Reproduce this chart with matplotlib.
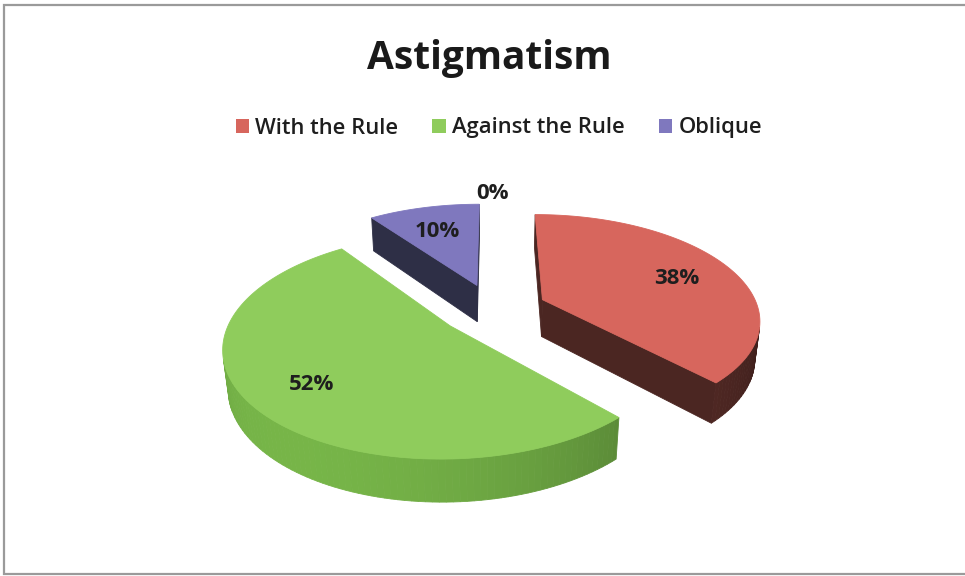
import numpy as np
import matplotlib
matplotlib.use("Agg")
import matplotlib.pyplot as plt
from matplotlib.patches import Polygon, Patch

# ---- chart data ----
title = "Astigmatism"
categories = ["With the Rule", "Against the Rule", "Oblique", ""]
values = [38, 52, 10, 0]
top_colors = ["#D7665D", "#8FCC5C", "#7F78BE", "#4F81BD"]
side_colors = ["#5E2F2A", "#6EA843", "#3A3B57", "#2C4D74"]

# ---- 3D pie geometry (world units: radius 1) ----
W, H = 965, 576
elev = np.radians(28.5)
dist = 5.0
focal = 1080.0
cx, cy = 493.0, 309.0
explode = 0.25
thick = 0.2
label_r = 0.72
cam = np.array([0.0, -dist * np.cos(elev), dist * np.sin(elev)])


def proj(X, Y, Z):
    depth = dist + Y * np.cos(elev) - Z * np.sin(elev)
    sx = cx + focal * X / depth
    sy = cy - focal * (Y * np.sin(elev) + Z * np.cos(elev)) / depth
    return sx, sy


def depth_of(X, Y, Z):
    return dist + Y * np.cos(elev) - Z * np.sin(elev)


def shade(hex_color, f):
    rgb = np.array(matplotlib.colors.to_rgb(hex_color)) * f
    return tuple(np.clip(rgb, 0, 1))


fig = plt.figure(figsize=(W / 100, H / 100), dpi=100)
ax = fig.add_axes([0, 0, 1, 1])
ax.set_xlim(0, W)
ax.set_ylim(H, 0)
ax.axis("off")

# outer frame (open on the right edge of the image)
ax.plot([W + 5, 4, 4, W + 5], [5, 5, 574, 574], color="#9a9a9a", lw=1.6,
        solid_joinstyle="miter")

total = float(sum(values))
starts = 90 - np.cumsum([0] + values[:-1]) / total * 360
ends = starts - np.array(values) / total * 360

slices = []
for i, v in enumerate(values):
    a0, a1 = np.radians(starts[i]), np.radians(ends[i])
    mid = (a0 + a1) / 2
    off = explode * np.array([np.cos(mid), np.sin(mid)])
    slices.append((i, a0, a1, mid, off))

light = np.array([-0.6, -0.8])
light /= np.linalg.norm(light)


def visible(normal, point):
    return np.dot(normal, cam - point) > 0


# farther slices first
order = sorted(slices, key=lambda s: -depth_of(s[4][0], s[4][1], 0))
for i, a0, a1, mid, off in order:
    if values[i] == 0:
        continue
    n = max(int(abs(np.degrees(a0 - a1)) / 1.5), 4)
    th = np.linspace(a0, a1, n + 1)
    rimX = off[0] + np.cos(th)
    rimY = off[1] + np.sin(th)
    faces = []
    # curved outer wall
    for k in range(n):
        tm = (th[k] + th[k + 1]) / 2
        nrm = np.array([np.cos(tm), np.sin(tm), 0.0])
        pt = np.array([off[0] + np.cos(tm), off[1] + np.sin(tm), -thick / 2])
        if not visible(nrm, pt):
            continue
        quad = [proj(rimX[k], rimY[k], 0), proj(rimX[k + 1], rimY[k + 1], 0),
                proj(rimX[k + 1], rimY[k + 1], -thick), proj(rimX[k], rimY[k], -thick)]
        lit = np.dot(nrm[:2], light)
        f = 0.78 + 0.3 * lit
        faces.append((depth_of(*pt), quad, shade(side_colors[i], f)))
    # radial cut faces
    for ang, sgn in ((a0, 1), (a1, -1)):
        nang = ang + sgn * np.pi / 2
        nrm = np.array([np.cos(nang), np.sin(nang), 0.0])
        rx, ry = off[0] + np.cos(ang), off[1] + np.sin(ang)
        pt = np.array([(off[0] + rx) / 2, (off[1] + ry) / 2, -thick / 2])
        if not visible(nrm, pt):
            continue
        quad = [proj(off[0], off[1], 0), proj(rx, ry, 0),
                proj(rx, ry, -thick), proj(off[0], off[1], -thick)]
        faces.append((depth_of(*pt), quad, shade(side_colors[i], 0.8)))
    for _, quad, col in sorted(faces, key=lambda t: -t[0]):
        ax.add_patch(Polygon(quad, closed=True, fc=col, ec=col, lw=0.6))
    # top face
    top = [proj(off[0], off[1], 0)] + [proj(x, y, 0) for x, y in zip(rimX, rimY)]
    ax.add_patch(Polygon(top, closed=True, fc=top_colors[i], ec=top_colors[i], lw=0.6))

# percentage labels
for i, a0, a1, mid, off in slices:
    r = label_r if values[i] > 0 else 1.2
    lx, ly = proj(off[0] + r * np.cos(mid), off[1] + r * np.sin(mid), 0)
    ax.text(lx, ly + 4, f"{values[i] / total * 100:.0f}%", ha="center", va="center",
            fontsize=16, fontweight="bold", family="Open Sans", color="#1e1e1e")

ax.text(489, 58, title, ha="center", va="center", fontsize=28,
        fontweight="bold", family="Open Sans", color="#1a1a1a")

handles = [Patch(fc=top_colors[i], ec="none", label=categories[i])
           for i in range(len(categories)) if categories[i]]
leg = ax.legend(handles=handles, loc="center", bbox_to_anchor=(0.517, 1 - 128 / H),
                ncol=3, frameon=False, handlelength=0.6, handleheight=0.6,
                handletextpad=0.3, columnspacing=1.55,
                prop={"family": "Open Sans", "size": 15.8, "weight": "semibold"})
for t in leg.get_texts():
    t.set_color("#1e1e1e")

fig.savefig("out.png", dpi=100, facecolor="white")
